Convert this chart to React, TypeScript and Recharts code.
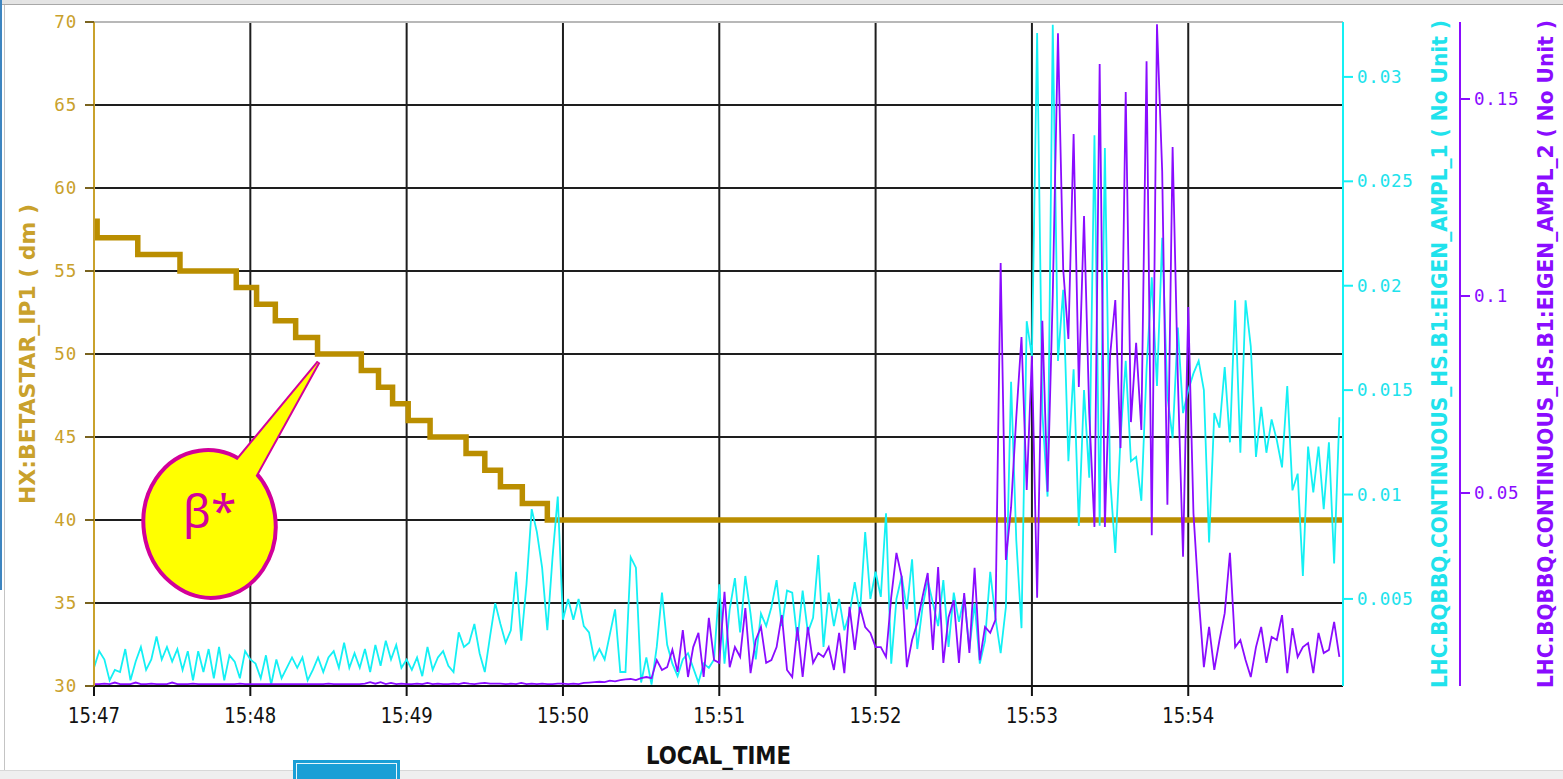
import React from 'react';
import {
  LineChart,
  Line,
  XAxis,
  YAxis,
  CartesianGrid,
  ReferenceLine,
  ReferenceDot,
  Label,
} from 'recharts';

// sampling of the two BBQ amplitude signals, seconds
const SAMPLE_SECONDS = 2;

// HX:BETASTAR_IP1 steps: minutes after 15:47, value in dm
const betaTimes = [0, 0.02, 0.28, 0.55, 0.91, 1.04, 1.16, 1.29, 1.43, 1.71, 1.82, 1.91, 2.01, 2.15, 2.38, 2.5, 2.6, 2.74, 2.9, 7.99];
const betaValues = [58, 57, 56, 55, 54, 53, 52, 51, 50, 49, 48, 47, 46, 45, 44, 43, 42, 41, 40, 40];

// LHC.BQBBQ.CONTINUOUS_HS.B1:EIGEN_AMPL_1 (cyan)
const ampl1 = [
  0.0017, 0.0025, 0.0021, 0.0011, 0.0016, 0.0015, 0.0026, 0.0011, 0.0020, 0.0027,
  0.0016, 0.0021, 0.0032, 0.0021, 0.0027, 0.0020, 0.0026, 0.0016, 0.0025, 0.0011,
  0.0025, 0.0015, 0.0026, 0.0012, 0.0027, 0.0011, 0.0023, 0.0020, 0.0012, 0.0025,
  0.0021, 0.0019, 0.0012, 0.0023, 0.0009, 0.0021, 0.0012, 0.0017, 0.0022, 0.0017,
  0.0022, 0.0011, 0.0016, 0.0022, 0.0015, 0.0022, 0.0025, 0.0017, 0.0029, 0.0017,
  0.0024, 0.0017, 0.0026, 0.0015, 0.0028, 0.0018, 0.0030, 0.0021, 0.0028, 0.0017,
  0.0021, 0.0016, 0.0022, 0.0013, 0.0027, 0.0016, 0.0022, 0.0025, 0.0018, 0.0015,
  0.0034, 0.0027, 0.0029, 0.0038, 0.0024, 0.0015, 0.0032, 0.0048, 0.0038, 0.0029,
  0.0035, 0.0063, 0.0030, 0.0057, 0.0093, 0.0082, 0.0065, 0.0035, 0.0070, 0.0099,
  0.0040, 0.0050, 0.0040, 0.0050, 0.0037, 0.0034, 0.0021, 0.0026, 0.0021, 0.0033,
  0.0045, 0.0015, 0.0015, 0.0070, 0.0065, 0.0010, 0.0022, 0.0009, 0.0027, 0.0053,
  0.0028, 0.0019, 0.0013, 0.0021, 0.0024, 0.0017, 0.0010, 0.0019, 0.0017, 0.0021,
  0.0057, 0.0019, 0.0045, 0.0060, 0.0034, 0.0061, 0.0043, 0.0021, 0.0043, 0.0037,
  0.0046, 0.0059, 0.0037, 0.0054, 0.0053, 0.0030, 0.0054, 0.0034, 0.0041, 0.0071,
  0.0027, 0.0053, 0.0037, 0.0050, 0.0035, 0.0043, 0.0058, 0.0043, 0.0082, 0.0050,
  0.0063, 0.0051, 0.0091, 0.0019, 0.0050, 0.0061, 0.0045, 0.0069, 0.0026, 0.0046,
  0.0059, 0.0048, 0.0037, 0.0059, 0.0027, 0.0053, 0.0039, 0.0051, 0.0026, 0.0048,
  0.0019, 0.0030, 0.0063, 0.0041, 0.0024, 0.0046, 0.0154, 0.0078, 0.0036, 0.0183,
  0.0166, 0.0321, 0.0139, 0.0099, 0.0325, 0.0164, 0.0198, 0.0116, 0.0160, 0.0085,
  0.0150, 0.0108, 0.0272, 0.0085, 0.0266, 0.0108, 0.0072, 0.0127, 0.0164, 0.0116,
  0.0118, 0.0097, 0.0160, 0.0204, 0.0152, 0.0223, 0.0147, 0.0127, 0.0180, 0.0139,
  0.0150, 0.0158, 0.0164, 0.0150, 0.0077, 0.0139, 0.0132, 0.0161, 0.0125, 0.0193,
  0.0120, 0.0193, 0.0171, 0.0118, 0.0142, 0.0120, 0.0136, 0.0126, 0.0113, 0.0152,
  0.0102, 0.0110, 0.0061, 0.0123, 0.0101, 0.0123, 0.0093, 0.0125, 0.0067, 0.0137,
];

// LHC.BQBBQ.CONTINUOUS_HS.B1:EIGEN_AMPL_2 (purple)
const ampl2 = [
  0.0015, 0.0015, 0.0016, 0.0015, 0.0019, 0.0015, 0.0015, 0.0015, 0.0019, 0.0015,
  0.0015, 0.0016, 0.0015, 0.0015, 0.0015, 0.0019, 0.0015, 0.0015, 0.0015, 0.0016,
  0.0015, 0.0015, 0.0015, 0.0015, 0.0015, 0.0015, 0.0015, 0.0015, 0.0016, 0.0015,
  0.0015, 0.0015, 0.0015, 0.0015, 0.0015, 0.0015, 0.0015, 0.0015, 0.0015, 0.0015,
  0.0015, 0.0015, 0.0015, 0.0015, 0.0015, 0.0016, 0.0015, 0.0015, 0.0015, 0.0015,
  0.0015, 0.0015, 0.0016, 0.0020, 0.0016, 0.0020, 0.0015, 0.0018, 0.0015, 0.0016,
  0.0015, 0.0015, 0.0016, 0.0015, 0.0018, 0.0015, 0.0016, 0.0015, 0.0015, 0.0016,
  0.0015, 0.0018, 0.0016, 0.0015, 0.0017, 0.0018, 0.0016, 0.0016, 0.0016, 0.0015,
  0.0016, 0.0015, 0.0018, 0.0015, 0.0016, 0.0015, 0.0016, 0.0015, 0.0015, 0.0016,
  0.0016, 0.0015, 0.0016, 0.0015, 0.0018, 0.0019, 0.0020, 0.0021, 0.0020, 0.0024,
  0.0022, 0.0025, 0.0027, 0.0028, 0.0025, 0.0030, 0.0033, 0.0030, 0.0076, 0.0051,
  0.0058, 0.0102, 0.0046, 0.0152, 0.0033, 0.0109, 0.0145, 0.0033, 0.0183, 0.0076,
  0.0069, 0.0249, 0.0058, 0.0109, 0.0084, 0.0208, 0.0043, 0.0127, 0.0160, 0.0069,
  0.0076, 0.0109, 0.0190, 0.0051, 0.0033, 0.0160, 0.0033, 0.0160, 0.0069, 0.0094,
  0.0084, 0.0109, 0.0051, 0.0145, 0.0043, 0.0211, 0.0102, 0.0211, 0.0160, 0.0145,
  0.0109, 0.0109, 0.0084, 0.0236, 0.0348, 0.0287, 0.0058, 0.0127, 0.0170, 0.0236,
  0.0297, 0.0102, 0.0312, 0.0069, 0.0185, 0.0228, 0.0069, 0.0246, 0.0094, 0.0310,
  0.0076, 0.0160, 0.0145, 0.0178, 0.1084, 0.0330, 0.0464, 0.0693, 0.0896, 0.0508,
  0.0848, 0.0234, 0.0937, 0.0503, 0.1003, 0.1667, 0.1069, 0.0891, 0.1411, 0.0769,
  0.1203, 0.0703, 0.0414, 0.1589, 0.0414, 0.0848, 0.0990, 0.0614, 0.1518, 0.0680,
  0.0881, 0.0660, 0.1596, 0.0393, 0.1690, 0.1317, 0.0470, 0.1378, 0.0792, 0.0338,
  0.0972, 0.0449, 0.0236, 0.0058, 0.0160, 0.0051, 0.0127, 0.0195, 0.0348, 0.0109,
  0.0127, 0.0076, 0.0033, 0.0109, 0.0160, 0.0069, 0.0135, 0.0127, 0.0190, 0.0043,
  0.0157, 0.0084, 0.0109, 0.0119, 0.0043, 0.0145, 0.0094, 0.0102, 0.0173, 0.0084,
];

const timeTicks = [0, 1, 2, 3, 4, 5, 6, 7];
const timeLabels = ['15:47', '15:48', '15:49', '15:50', '15:51', '15:52', '15:53', '15:54'];
const betaTicks = [30, 35, 40, 45, 50, 55, 60, 65, 70];
const ampl1Ticks = [0.005, 0.01, 0.015, 0.02, 0.025, 0.03];
const ampl2Ticks = [0.05, 0.1, 0.15];

// where the beta* balloon points
const calloutAt = { t: 1.43, beta: 50 };

const betaData = betaTimes.map((t, i) => ({ t, beta: betaValues[i] }));
const ampl1Data = ampl1.map((v, i) => ({ t: (i * SAMPLE_SECONDS) / 60, a1: v }));
const ampl2Data = ampl2.map((v, i) => ({ t: (i * SAMPLE_SECONDS) / 60, a2: v }));

const NARROW = "'Liberation Sans Narrow', 'DejaVu Sans Condensed', 'Liberation Sans', Arial, sans-serif";
const MONO = "'DejaVu Sans Mono', 'Liberation Mono', monospace";

const GOLD_LINE = '#BA8E00';
const GOLD_TEXT = '#C9A12C';
const CYAN = '#14F0F4';
const CYAN_TEXT = '#20E2EC';
const PURPLE = '#8A0CFF';
const GRID = '#1e1e1e';
const MAGENTA = '#D2009A';

function ValueTick(props: any) {
  const { x, y, payload, color, anchor } = props;
  return (
    <text x={x} y={y} dy={6} textAnchor={anchor} fill={color} fontFamily={MONO} fontSize={17.5} letterSpacing={0.8}>
      {String(payload.value)}
    </text>
  );
}

function TimeTick(props: any) {
  const { x, y, payload } = props;
  const label = timeLabels[timeTicks.indexOf(payload.value)];
  return (
    <text x={x} y={y} dy={25} textAnchor="middle" fill="#111" fontFamily={NARROW} fontSize={22}
      textLength={52} lengthAdjust="spacingAndGlyphs">
      {label}
    </text>
  );
}

function SideLabel(props: any) {
  const { viewBox, text, dx, color, length } = props;
  if (!viewBox) return null;
  const cx = viewBox.x + dx;
  const cy = viewBox.y + viewBox.height / 2;
  return (
    <text x={cx} y={cy} transform={`rotate(-90 ${cx} ${cy})`} textAnchor="middle" dominantBaseline="central"
      fill={color} fontFamily={NARROW} fontWeight="bold" fontSize={22}
      textLength={length} lengthAdjust="spacingAndGlyphs">
      {text}
    </text>
  );
}

function BottomLabel(props: any) {
  const { viewBox } = props;
  if (!viewBox) return null;
  return (
    <text x={viewBox.x + viewBox.width / 2} y={viewBox.y + 78} textAnchor="middle" fill="#111"
      fontFamily={NARROW} fontWeight="bold" fontSize={25} textLength={145} lengthAdjust="spacingAndGlyphs">
      LOCAL_TIME
    </text>
  );
}

// speech balloon with its tip just under the annotated point
function Balloon(props: any) {
  const { cx, cy } = props;
  if (cx == null || cy == null) return null;
  const tx = cx + 1;
  const ty = cy + 8;
  const tri = `M${tx},${ty} L${tx - 82},${ty + 99} L${tx - 63},${ty + 114} Z`;
  const ex = tx - 109;
  const ey = ty + 162;
  return (
    <g>
      <path d={tri} fill="#FFFF00" stroke={MAGENTA} strokeWidth={4} strokeLinejoin="miter" />
      <ellipse cx={ex} cy={ey} rx={66} ry={74} fill="#FFFF00" stroke={MAGENTA} strokeWidth={4}
        transform={`rotate(-8 ${ex} ${ey})`} />
      <path d={tri} fill="#FFFF00" stroke="none" />
      <text x={ex} y={ey + 4} textAnchor="middle" fill={MAGENTA} fontFamily="'Noto Sans', 'Open Sans', sans-serif"
        fontSize={46}>
        β*
      </text>
    </g>
  );
}

export default function App() {
  return (
    <div style={{ position: 'fixed', left: 0, top: 0, width: 1563, height: 779, background: '#fff', overflow: 'hidden' }}>
      <LineChart width={1563} height={779} margin={{ top: 22, right: 0, bottom: 0, left: 0 }}>
        <CartesianGrid
          yAxisId="beta"
          stroke={GRID}
          strokeWidth={2}
          horizontalValues={[35, 40, 45, 50, 55, 60, 65]}
          verticalValues={[1, 2, 3, 4, 5, 6, 7]}
        />
        <XAxis
          dataKey="t"
          type="number"
          domain={[0, 7.99]}
          ticks={timeTicks}
          allowDataOverflow
          height={93}
          tickSize={10}
          tickMargin={2}
          axisLine={{ stroke: '#111', strokeWidth: 2 }}
          tickLine={{ stroke: '#111', strokeWidth: 2 }}
          tick={(p: any) => <TimeTick {...p} />}
        >
          <Label content={(p: any) => <BottomLabel {...p} />} />
        </XAxis>
        <YAxis
          yAxisId="beta"
          orientation="left"
          domain={[30, 70]}
          ticks={betaTicks}
          width={94}
          tickSize={9}
          tickMargin={8}
          axisLine={{ stroke: GOLD_TEXT, strokeWidth: 2 }}
          tickLine={{ stroke: '#7A6420', strokeWidth: 2 }}
          tick={(p: any) => <ValueTick {...p} color={GOLD_TEXT} anchor="end" />}
        >
          <Label content={(p: any) => (
            <SideLabel {...p} text="HX:BETASTAR_IP1 ( dm )" dx={27.5} color={GOLD_TEXT} length={300} />
          )} />
        </YAxis>
        <YAxis
          yAxisId="a1"
          orientation="right"
          domain={[0.00083, 0.03263]}
          ticks={ampl1Ticks}
          allowDataOverflow
          width={117}
          tickSize={10}
          tickMargin={4}
          axisLine={{ stroke: CYAN, strokeWidth: 2 }}
          tickLine={{ stroke: CYAN, strokeWidth: 2 }}
          tick={(p: any) => <ValueTick {...p} color={CYAN_TEXT} anchor="start" />}
        >
          <Label content={(p: any) => (
            <SideLabel {...p} text="LHC.BQBBQ.CONTINUOUS_HS.B1:EIGEN_AMPL_1 ( No Unit )" dx={96.5} color={CYAN_TEXT} length={668} />
          )} />
        </YAxis>
        <YAxis
          yAxisId="a2"
          orientation="right"
          domain={[0.00102, 0.16955]}
          ticks={ampl2Ticks}
          allowDataOverflow
          width={103}
          tickSize={10}
          tickMargin={4}
          axisLine={{ stroke: PURPLE, strokeWidth: 2 }}
          tickLine={{ stroke: PURPLE, strokeWidth: 2 }}
          tick={(p: any) => <ValueTick {...p} color={PURPLE} anchor="start" />}
        >
          <Label content={(p: any) => (
            <SideLabel {...p} text="LHC.BQBBQ.CONTINUOUS_HS.B1:EIGEN_AMPL_2 ( No Unit )" dx={85} color={PURPLE} length={668} />
          )} />
        </YAxis>

        <ReferenceLine yAxisId="beta" y={70} stroke="#b8b8b8" strokeWidth={2} />

        <Line
          yAxisId="beta"
          data={betaData}
          dataKey="beta"
          type="stepAfter"
          stroke={GOLD_LINE}
          strokeWidth={5.5}
          strokeLinejoin="miter"
          dot={false}
          activeDot={false}
          isAnimationActive={false}
        />
        <Line
          yAxisId="a1"
          data={ampl1Data}
          dataKey="a1"
          type="linear"
          stroke={CYAN}
          strokeWidth={1.8}
          dot={false}
          activeDot={false}
          isAnimationActive={false}
        />
        <Line
          yAxisId="a2"
          data={ampl2Data}
          dataKey="a2"
          type="linear"
          stroke={PURPLE}
          strokeWidth={1.8}
          dot={false}
          activeDot={false}
          isAnimationActive={false}
        />

        <ReferenceDot
          yAxisId="beta"
          x={calloutAt.t}
          y={calloutAt.beta}
          r={0}
          ifOverflow="visible"
          shape={(p: any) => <Balloon {...p} />}
        />
      </LineChart>

      {/* window chrome around the screenshot */}
      <div style={{ position: 'absolute', left: 0, top: 0, width: 1563, height: 4, background: '#e4e4e4', borderBottom: '1px solid #a8a8a8' }} />
      <div style={{ position: 'absolute', left: 0, top: 0, width: 2, height: 590, background: '#3d85c0' }} />
      <div style={{ position: 'absolute', left: 4, top: 5, width: 1, height: 765, background: '#c4c4c4' }} />
      <div style={{ position: 'absolute', left: 0, top: 770, width: 1563, height: 9, background: '#efefef', borderTop: '1px solid #d8d8d8' }} />
      <div style={{ position: 'absolute', left: 293, top: 760, width: 107, height: 19, background: '#1a9fd6' }}>
        <div style={{ position: 'absolute', left: 3, top: 3, right: 3, bottom: -2, border: '1px solid #e8f6fc' }} />
      </div>
    </div>
  );
}
